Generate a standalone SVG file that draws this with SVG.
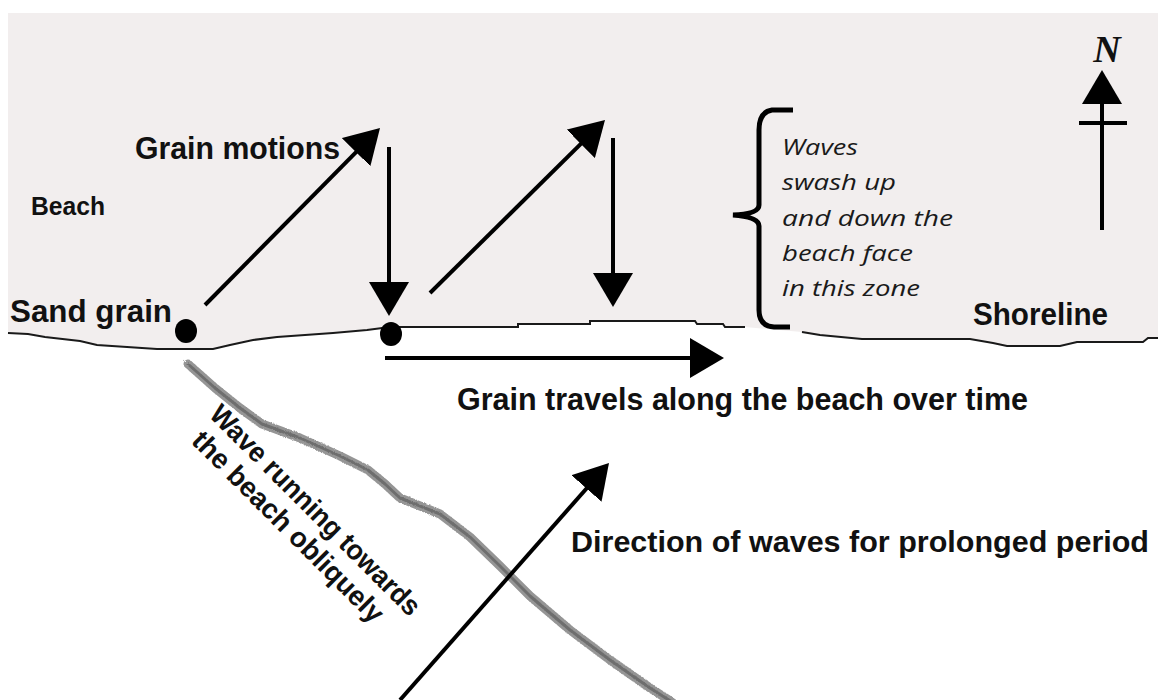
<svg xmlns="http://www.w3.org/2000/svg" width="1158" height="700" viewBox="0 0 1158 700">
<style>
.lbl{font-family:"Liberation Sans",Arial,sans-serif;font-weight:bold;fill:#111}
.it{font-family:"Open Sans","Noto Sans",sans-serif;font-style:italic;font-size:21px;fill:#1a1a1a}
.ln{stroke:#000;stroke-width:4;fill:none}
.shore{stroke:#1a1a1a;stroke-width:2;fill:none}
</style>
<defs>
<marker id="ah" markerUnits="userSpaceOnUse" viewBox="0 0 34 40" markerWidth="34" markerHeight="40" refX="26" refY="20" orient="auto">
<path d="M0,0 L34,20 L0,40 Z" fill="#000"/>
</marker>
<filter id="rough" x="-10%" y="-10%" width="120%" height="120%">
<feTurbulence type="fractalNoise" baseFrequency="0.9" numOctaves="2" result="n"/>
<feDisplacementMap in="SourceGraphic" in2="n" scale="4"/>
</filter>
</defs>
<rect width="1158" height="700" fill="#ffffff"/>
<g id="beach">
<path fill="#f2eeee" d="M8,13 H1158 V338 H1148 L1143,342 H1077 L1060,346 H1007 L993,343 L970,339 H862 L820,335 L802,332 L745,327 H725 L723,324 H697 L695,321 H590 V324 H518 V327 H390 L367,330 L333,333 L277,337 L253,340 L230,345 L213,349 H157 L127,347 L97,345 L80,341 L45,337 L28,334 L8,333 Z"/>
<path class="shore" d="M8,333 L28,334 L45,337 L80,341 L97,345 L127,347 L157,349 H213 L230,345 L253,340 L277,337 L333,333 L367,330 L390,327 H518 V324 H590 V321 H695 L697,324 H723 L725,327 H745"/>
<path class="shore" d="M802,332 L820,335 L862,339 H970 L993,343 L1007,346 H1060 L1077,342 H1143 L1148,338 H1158"/>
</g>
<g id="wave-band" filter="url(#rough)">
<path d="M188,364 L215,388 L240,408 L262,424 L300,438 L340,456 L368,470 L385,484 L400,498 L440,514 L470,537 L500,566 L530,596 L570,630 L610,660 L650,688 L672,702" stroke="#959595" stroke-width="9" fill="none" stroke-linecap="round" stroke-linejoin="round"/>
<path d="M188,364 L215,388 L240,408 L262,424 L300,438 L340,456 L368,470 L385,484 L400,498 L440,514 L470,537 L500,566 L530,596 L570,630 L610,660 L650,688 L672,702" stroke="#6e6e6e" stroke-width="3" fill="none" stroke-linejoin="round"/>
</g>
<g id="connectors">
<line class="ln" x1="205" y1="305" x2="374.4" y2="133.7" marker-end="url(#ah)"/>
<line class="ln" x1="389" y1="147" x2="389" y2="308" marker-end="url(#ah)"/>
<line class="ln" x1="430" y1="293" x2="599.3" y2="125.6" marker-end="url(#ah)"/>
<line class="ln" x1="613" y1="138" x2="613" y2="299" marker-end="url(#ah)"/>
<line class="ln" x1="385" y1="358" x2="716" y2="358" stroke-width="5" marker-end="url(#ah)"/>
<line class="ln" x1="400" y1="700" x2="603.7" y2="469" marker-end="url(#ah)"/>
</g>
<g id="sand-grain-1"><ellipse cx="186" cy="331" rx="11" ry="12" fill="#000"/></g>
<g id="sand-grain-2"><ellipse cx="391" cy="334" rx="11" ry="12" fill="#000"/></g>
<g id="brace">
<path d="M793,110 L772,110 Q759,112 759,130 L759,205 Q759,214 733,215 Q759,217 759,226 L759,310 Q759,326 774,327 L790,327" stroke="#000" stroke-width="5" fill="none"/>
</g>
<g id="north">
<line class="ln" x1="1102" y1="230" x2="1102" y2="78" marker-end="url(#ah)"/>
<line class="ln" x1="1079" y1="123" x2="1127" y2="123"/>
<text x="1107" y="62" text-anchor="middle" font-family="Liberation Serif,serif" font-style="italic" font-weight="bold" font-size="38" fill="#111">N</text>
</g>
<g id="labels">
<text class="lbl" x="31" y="215" font-size="25" textLength="74" lengthAdjust="spacingAndGlyphs">Beach</text>
<text class="lbl" x="135" y="159" font-size="32" textLength="205" lengthAdjust="spacingAndGlyphs">Grain motions</text>
<text class="lbl" x="10" y="322" font-size="31" textLength="162" lengthAdjust="spacingAndGlyphs">Sand grain</text>
<text class="lbl" x="973" y="325" font-size="31" textLength="135" lengthAdjust="spacingAndGlyphs">Shoreline</text>
<text class="lbl" x="457" y="410" font-size="32" textLength="571" lengthAdjust="spacingAndGlyphs">Grain travels along the beach over time</text>
<text class="lbl" x="571" y="552" font-size="30" textLength="578" lengthAdjust="spacingAndGlyphs">Direction of waves for prolonged period</text>
<g transform="translate(208,416) rotate(45)">
<text class="lbl" x="0" y="0" font-size="28" textLength="285" lengthAdjust="spacingAndGlyphs">Wave running towards</text>
<text class="lbl" x="6" y="31" font-size="28" textLength="258" lengthAdjust="spacingAndGlyphs">the beach obliquely</text>
</g>
</g>
<g id="swash-note">
<text class="it" x="782" y="155" textLength="76" lengthAdjust="spacingAndGlyphs">Waves</text>
<text class="it" x="782" y="190" textLength="114" lengthAdjust="spacingAndGlyphs">swash up</text>
<text class="it" x="782" y="226" textLength="171" lengthAdjust="spacingAndGlyphs">and down the</text>
<text class="it" x="782" y="261" textLength="131" lengthAdjust="spacingAndGlyphs">beach face</text>
<text class="it" x="782" y="296" textLength="138" lengthAdjust="spacingAndGlyphs">in this zone</text>
</g>
</svg>
